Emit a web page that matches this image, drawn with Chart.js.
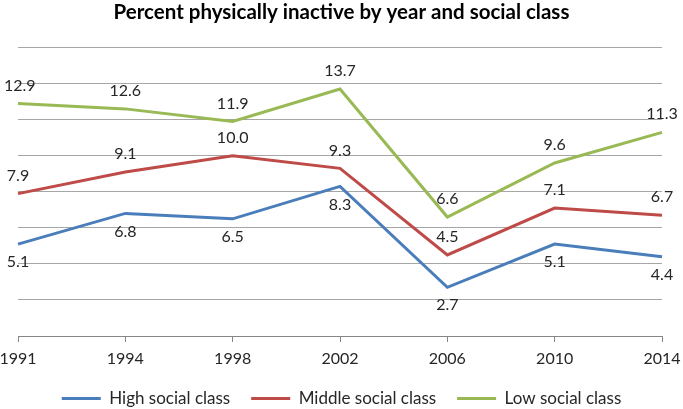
<html lang="en">
  <head>
    <meta charset="utf-8" />
    <title>Percent physically inactive</title>
    <script src="https://cdnjs.cloudflare.com/ajax/libs/Chart.js/4.4.1/chart.umd.min.js"></script>
    <style>
* { padding: 0; margin: 0; box-sizing: border-box; }
body { width: 683px; height: 409px; background: #ffffff; overflow: hidden; }
.wrapper { position: relative; width: 683px; height: 409px; }
    </style>
  </head>
  <body>
    <div class="wrapper">
      <canvas id="chart"></canvas>
    </div>

    <script>
      // Years on the x axis
      const years = ["1991", "1994", "1998", "2002", "2006", "2010", "2014"];
      // Percent inactive per social class
      const highClass = [5.1, 6.8, 6.5, 8.3, 2.7, 5.1, 4.4];
      const middleClass = [7.9, 9.1, 10.0, 9.3, 4.5, 7.1, 6.7];
      const lowClass = [12.9, 12.6, 11.9, 13.7, 6.6, 9.6, 11.3];

      const fontName = "Lato, 'Open Sans', sans-serif";

      // Draws the value next to each point (blue below, the others above)
      const valueLabels = {
        id: "valueLabels",
        afterDatasetsDraw(chart) {
          const ctx = chart.ctx;
          ctx.save();
          ctx.font = "16px " + fontName;
          ctx.fillStyle = "#262626";
          ctx.textAlign = "center";
          ctx.textBaseline = "middle";
          chart.data.datasets.forEach((ds, i) => {
            const meta = chart.getDatasetMeta(i);
            const shift = ds.labelBelow ? 18 : -18;
            meta.data.forEach((pt, j) => {
              const text = ds.data[j].toFixed(1);
              const w = ctx.measureText(text).width;
              let x = Math.max(w / 2 + 4, Math.min(chart.width - w / 2 - 1, pt.x));
              ctx.fillText(text, x, pt.y + shift);
            });
          });
          ctx.restore();
        }
      };

      new Chart(document.getElementById("chart"), {
        type: "line",
        plugins: [valueLabels],
        data: {
          labels: years,
          datasets: [
            {
              label: "High social class",
              data: highClass,
              borderColor: "#4a7ebb",
              backgroundColor: "#4a7ebb",
              labelBelow: true
            },
            {
              label: "Middle social class",
              data: middleClass,
              borderColor: "#be4b48",
              backgroundColor: "#be4b48"
            },
            {
              label: "Low social class",
              data: lowClass,
              borderColor: "#98b954",
              backgroundColor: "#98b954"
            }
          ]
        },
        options: {
          responsive: true,
          maintainAspectRatio: false,
          animation: false,
          elements: {
            line: { borderWidth: 3, tension: 0 },
            point: { radius: 0, hoverRadius: 0, borderWidth: 3 }
          },
          layout: { padding: 0 },
          scales: {
            x: {
              offset: false,
              grid: { drawOnChartArea: false, drawTicks: true, tickLength: 6, color: "#868686" },
              border: { display: true, color: "#868686", width: 1 },
              ticks: { color: "#262626", font: { family: fontName, size: 16 }, padding: 7, maxRotation: 0 },
              afterFit: (scale) => {
                scale.height = 33;
                scale.paddingLeft = 18;
                scale.paddingRight = 21;
              }
            },
            y: {
              min: 0,
              max: 16,
              ticks: { display: false, stepSize: 2 },
              border: { display: false },
              grid: { color: "#a6a6a6", drawTicks: false },
              afterFit: (scale) => { scale.width = 0; }
            }
          },
          plugins: {
            tooltip: { enabled: false },
            title: {
              display: true,
              text: "Percent physically inactive by year and social class",
              color: "#000000",
              font: { family: fontName, size: 20.5, weight: "bold" },
              padding: { top: 0, bottom: 23 }
            },
            legend: {
              position: "bottom",
              maxHeight: 40,
              labels: {
                usePointStyle: true,
                pointStyle: "line",
                pointStyleWidth: 39,
                color: "#262626",
                font: { family: fontName, size: 17 },
                padding: 21
              }
            }
          }
        }
      });
    </script>
  </body>
</html>
